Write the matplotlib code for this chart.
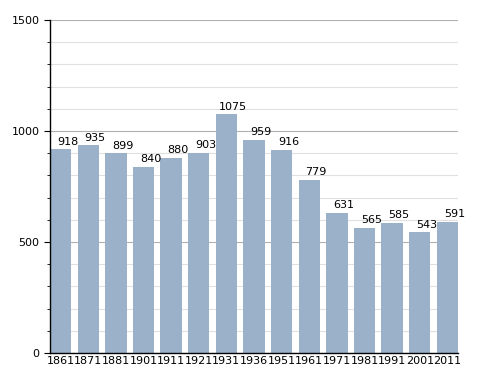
import numpy as np
import matplotlib
matplotlib.use("Agg")
import matplotlib.pyplot as plt
from matplotlib.ticker import MultipleLocator

years = ["1861", "1871", "1881", "1901", "1911", "1921", "1931", "1936",
         "1951", "1961", "1971", "1981", "1991", "2001", "2011"]
population = [918, 935, 899, 840, 880, 903, 1075, 959,
              916, 779, 631, 565, 585, 543, 591]

fig = plt.figure(figsize=(4.88, 3.73), dpi=100)
ax = fig.add_axes([50 / 488, 20 / 373, 408 / 488, 333 / 373])

x = np.arange(len(years))
ax.bar(x, population, width=0.77, color="#9ab1c9", zorder=2)

for xi, v in zip(x, population):
    ax.text(xi + 0.25, v + 12, str(v), ha="center", va="bottom",
            fontsize=8, color="black", zorder=3)

ax.set_xlim(-0.385, len(years) - 1 + 0.385)
ax.set_ylim(0, 1500)
ax.set_xticks(x)
ax.set_xticklabels(years, fontsize=8)
ax.tick_params(axis="x", length=0, pad=2)

ax.yaxis.set_major_locator(MultipleLocator(500))
ax.yaxis.set_minor_locator(MultipleLocator(100))
ax.tick_params(axis="y", which="major", labelsize=8, length=4, direction="out")
ax.tick_params(axis="y", which="minor", length=2, direction="out")

ax.grid(axis="y", which="minor", color="#e0e0e0", linewidth=0.8, zorder=0)
ax.grid(axis="y", which="major", color="#b0b0b0", linewidth=0.8, zorder=1)

for s in ["top", "right"]:
    ax.spines[s].set_visible(False)
ax.spines["left"].set_linewidth(1.0)
ax.spines["bottom"].set_linewidth(1.0)

fig.savefig("out.png", dpi=100)
